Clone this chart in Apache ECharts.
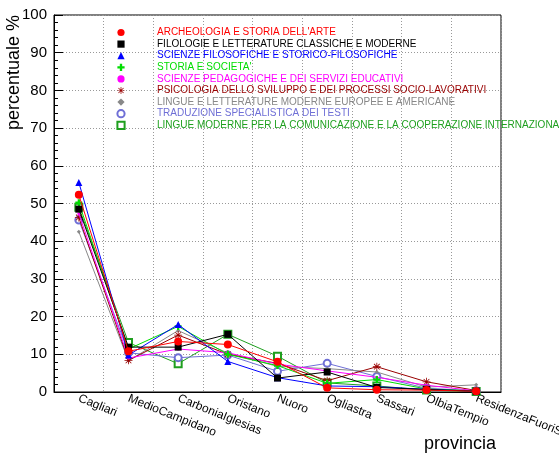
<!DOCTYPE html>
<html><head><meta charset="utf-8">
<script src="https://cdn.jsdelivr.net/npm/echarts@6/dist/echarts.min.js"></script>
<style>html,body{margin:0;padding:0;background:#fff}#c{width:559px;height:456px}</style>
</head><body><div id="c"></div>
<script>
const categories = ['Cagliari','MedioCampidano','CarboniaIglesias','Oristano','Nuoro','Ogliastra','Sassari','OlbiaTempio','ResidenzaFuoriSardegna'];
const seriesNames = ["ARCHEOLOGIA E STORIA DELL'ARTE","FILOLOGIE E LETTERATURE CLASSICHE E MODERNE","SCIENZE FILOSOFICHE E STORICO-FILOSOFICHE","STORIA E SOCIETA'","SCIENZE PEDAGOGICHE E DEI SERVIZI EDUCATIVI","PSICOLOGIA DELLO SVILUPPO E DEI PROCESSI SOCIO-LAVORATIVI","LINGUE E LETTERATURE MODERNE EUROPEE E AMERICANE","TRADUZIONE SPECIALISTICA DEI TESTI","LINGUE MODERNE PER LA COMUNICAZIONE E LA COOPERAZIONE INTERNAZIONALE"];
const archeologia = [52.3, 10.8, 13.4, 12.6, 8.0, 1.1, 0.6, 0.5, 0.2];
const filologie   = [48.5, 11.9, 11.9, 15.3, 3.7, 5.3, 1.2, 0.7, 0.2];
const filosofiche = [55.6, 9.8, 17.9, 8.1, 3.8, 1.6, 1.4, 0.7, 0.2];
const storia      = [50.2, 11.4, 17.4, 10.0, 7.0, 2.3, 3.3, 0.8, 0.3];
const pedagogiche = [47.3, 9.0, 11.4, 10.4, 7.4, 5.6, 3.9, 1.8, 0.3];
const psicologia  = [46.3, 8.4, 15.1, 10.0, 7.6, 3.0, 6.7, 2.7, 0.4];
const lingueEur   = [42.5, 8.3, 16.3, 10.3, 6.8, 6.2, 5.3, 1.3, 1.9];
const traduzione  = [45.6, 10.4, 9.1, 9.8, 5.5, 7.6, 4.1, 1.0, 0.3];
const lingueCom   = [49.0, 13.1, 7.5, 15.3, 9.5, 2.4, 1.6, 0.5, 0.1];
const yTicks = [0,10,20,30,40,50,60,70,80,90,100];

const allData = [archeologia, filologie, filosofiche, storia, pedagogiche, psicologia, lingueEur, traduzione, lingueCom];
const colors = ['#ff0000','#000000','#0000ff','#00dd00','#ff00ff','#990000','#888888','#6f6fd6','#1f9f1f'];
const plusPath = 'path://M-1.3,-4 L1.3,-4 L1.3,-1.3 L4,-1.3 L4,1.3 L1.3,1.3 L1.3,4 L-1.3,4 L-1.3,1.3 L-4,1.3 L-4,-1.3 L-1.3,-1.3 Z';
const starPath = 'path://M-0.5,-5 L0.5,-5 L0.5,5 L-0.5,5 Z M-5,-0.5 L5,-0.5 L5,0.5 L-5,0.5 Z M-3.9,-3.2 L-3.2,-3.9 L3.9,3.2 L3.2,3.9 Z M3.2,-3.9 L3.9,-3.2 L-3.2,3.9 L-3.9,3.2 Z';
const symbols = ['circle','rect','triangle', plusPath, 'circle', starPath, 'diamond', 'emptyCircle', 'emptyRect'];
const sizes = [8, 7, 7, 7, 3, 8, 4, 7, 7];
const FONT = 'Liberation Sans, Arial, sans-serif';

const chart = echarts.init(document.getElementById('c'), null, {renderer:'canvas'});
const series = seriesNames.map((n,i)=>({
  name: n, type: 'line', data: allData[i],
  symbol: symbols[i], symbolSize: sizes[i],
  itemStyle: {color: colors[i]},
  lineStyle: {color: colors[i], width: 1},
  z: 10 - i
}));
chart.setOption({
  animation: false,
  backgroundColor: '#fff',
  textStyle: {fontFamily: FONT},
  grid: {left: 54, right: 58, top: 15, bottom: 64, show: true, borderColor: '#000', borderWidth: 1, containLabel: false, outerBoundsMode: 'none'},
  legend: {
    orient: 'vertical', left: 89, top: 27.5, padding: 0,
    itemWidth: 62, itemHeight: 9, itemGap: 1.6,
    lineStyle: {opacity: 0},
    selectedMode: false,
    data: seriesNames.map((n,i)=>({name: n, textStyle: {color: colors[i]}})),
    textStyle: {fontSize: 10, lineHeight: 10, fontFamily: FONT, padding: 0}
  },
  xAxis: {
    type: 'category', data: categories, boundaryGap: true,
    axisLine: {lineStyle: {color: '#000'}},
    axisTick: {alignWithLabel: true, inside: true, length: 8, lineStyle: {color: '#000'}},
    axisLabel: {rotate: -22, color: '#000', fontSize: 12, margin: 6, interval: 0},
    splitLine: {show: true, lineStyle: {color: '#999', type: [1,2], width: 1}}
  },
  yAxis: {
    type: 'value', min: 0, max: 100, interval: 10,
    axisLine: {show: true, lineStyle: {color: '#000'}},
    axisTick: {show: true, inside: true, length: 9, lineStyle: {color: '#000'}},
    minorTick: {show: true, splitNumber: 5, length: 4, lineStyle: {color: '#000'}},
    axisLabel: {color: '#000', fontSize: 15, margin: 7},
    splitLine: {show: true, lineStyle: {color: '#999', type: [1,2], width: 1}}
  },
  graphic: [
    {type: 'text', x: 5, y: 15, rotation: Math.PI/2, style: {text: 'percentuale %', fontSize: 18, fill: '#000', align: 'right', verticalAlign: 'top', fontFamily: FONT}},
    {type: 'text', x: 496, y: 444, style: {text: 'provincia', fontSize: 18, fill: '#000', align: 'right', verticalAlign: 'middle', fontFamily: FONT}}
  ],
  series: series
});
</script></body></html>
